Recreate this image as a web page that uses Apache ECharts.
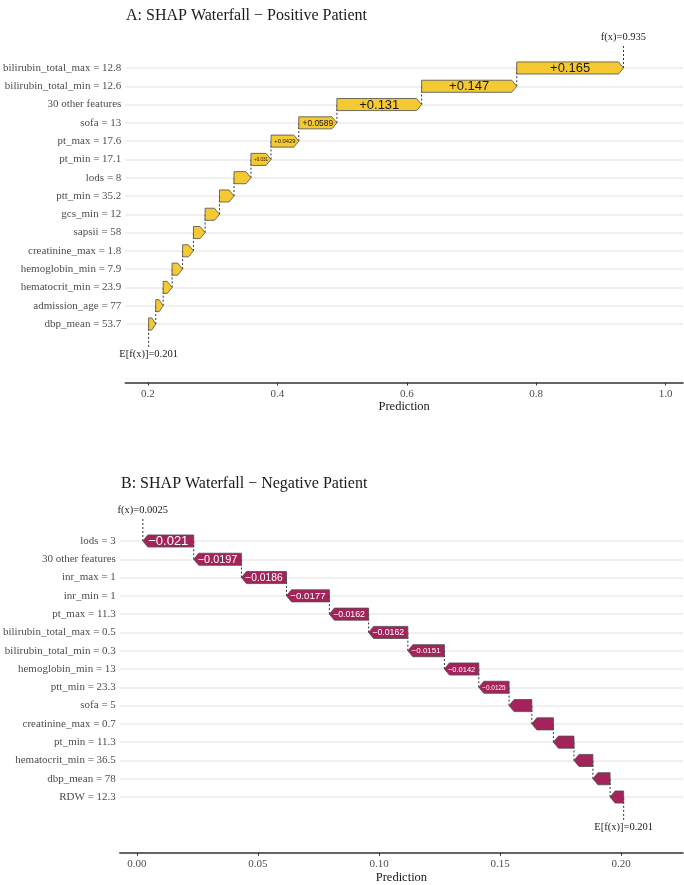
<!DOCTYPE html>
<html>
<head>
<meta charset="utf-8">
<title>SHAP Waterfall</title>
<script src="https://cdn.jsdelivr.net/npm/echarts@6.0.0/dist/echarts.min.js"></script>
<style>
    body { margin: 0; background: #fff; }
    #main { width: 684px; height: 885px; }
</style>
</head>
<body>
<div id="main"></div>
<script>
// A: 正样本 (从下往上)
var posFeatures = ['dbp_mean = 53.7', 'admission_age = 77', 'hematocrit_min = 23.9', 'hemoglobin_min = 7.9',
    'creatinine_max = 1.8', 'sapsii = 58', 'gcs_min = 12', 'ptt_min = 35.2', 'lods = 8', 'pt_min = 17.1',
    'pt_max = 17.6', 'sofa = 13', '30 other features', 'bilirubin_total_min = 12.6', 'bilirubin_total_max = 12.8']
var posShap = [0.011, 0.0115, 0.0138, 0.0162, 0.0168, 0.018, 0.0222, 0.0225, 0.0262, 0.031,
    0.0429, 0.0589, 0.131, 0.147, 0.165]
var posBase = 0.201
var posTicks = [0.2, 0.4, 0.6, 0.8, 1.0]

// B: 负样本 (从下往上)
var negFeatures = ['RDW = 12.3', 'dbp_mean = 78', 'hematocrit_min = 36.5', 'pt_min = 11.3', 'creatinine_max = 0.7',
    'sofa = 5', 'ptt_min = 23.3', 'hemoglobin_min = 13', 'bilirubin_total_min = 0.3', 'bilirubin_total_max = 0.5',
    'pt_max = 11.3', 'inr_min = 1', 'inr_max = 1', '30 other features', 'lods = 3']
var negShap = [-0.0056, -0.0071, -0.0078, -0.0085, -0.0089, -0.0094, -0.0125, -0.0142, -0.0151, -0.0162,
    -0.0162, -0.0177, -0.0186, -0.0197, -0.021]
var negBase = 0.201
var negTicks = [0, 0.05, 0.1, 0.15, 0.2]

var SERIF = 'Liberation Serif'
var SANS = 'Liberation Sans'

class Waterfall {
    constructor() {
        this.myChart = echarts.init(document.getElementById('main'))
        this.option = null
        this.renderDom()
    }

    //数值格式
    fmt(v) {
        return String(Number(Math.abs(v).toPrecision(3)))
    }

    //累计 -> [起点, 终点, 行]
    steps(base, shap) {
        var out = []
        var cur = base
        for (var i = 0; i < shap.length; i++) {
            out.push([cur, cur + shap[i], i])
            cur = cur + shap[i]
        }
        return out
    }

    //箭头条
    barSeries(idx, shap, fill, textColor, minLabel) {
        var _this = this
        return {
            type: 'custom',
            xAxisIndex: idx,
            yAxisIndex: idx,
            z: 5,
            data: this.steps(idx == 0 ? posBase : negBase, shap),
            renderItem: function (params, api) {
                var s = api.value(0), e = api.value(1), row = api.value(2)
                var p0 = api.coord([s, row])
                var p1 = api.coord([e, row])
                var y = p0[1]
                var h = api.size([0, 1])[1] * 0.33
                var w = Math.abs(p1[0] - p0[0])
                var head = Math.min(5, w * 0.55)
                var dir = e > s ? 1 : -1
                var children = [{
                    type: 'polygon',
                    shape: {
                        points: [[p0[0], y - h], [p1[0] - dir * head, y - h], [p1[0], y],
                            [p1[0] - dir * head, y + h], [p0[0], y + h]]
                    },
                    style: { fill: fill, stroke: '#4d4d4d', lineWidth: 0.8 }
                }]
                var v = e - s
                if (Math.abs(v) >= minLabel) {
                    var txt = (v > 0 ? '+' : '\u2212') + _this.fmt(v)
                    var ems = 0
                    for (var k = 0; k < txt.length; k++) {
                        ems += txt[k] == '.' ? 0.278 : (txt[k] == '+' || txt[k] == '\u2212' ? 0.584 : 0.556)
                    }
                    var fs = Math.min(13, (w - head) * 0.93 / ems)
                    children.push({
                        type: 'text',
                        style: {
                            x: (p0[0] + p1[0]) / 2, y: y + 0.5, text: txt,
                            fill: textColor, font: fs.toFixed(2) + 'px ' + SANS,
                            align: 'center', verticalAlign: 'middle'
                        }
                    })
                }
                return { type: 'group', children: children }
            }
        }
    }

    //虚线 + f(x) / E[f(x)] 标注
    linkSeries(idx, base, shap) {
        var st = this.steps(base, shap)
        var fx = st[st.length - 1][1]
        var top = shap.length - 1
        var lines = []
        for (var i = 0; i < st.length - 1; i++) {
            lines.push([st[i][1], i, i + 1])
        }
        lines.push([base, -1.25, 0])
        lines.push([fx, top, top + 1.28])
        var notes = ['E[f(x)]=' + this.fmt(base), 'f(x)=' + this.fmt(fx)]
        return [{
            type: 'custom',
            xAxisIndex: idx,
            yAxisIndex: idx,
            z: 3,
            data: lines,
            renderItem: function (params, api) {
                var a = api.coord([api.value(0), api.value(1)])
                var b = api.coord([api.value(0), api.value(2)])
                return {
                    type: 'line',
                    shape: { x1: a[0], y1: a[1], x2: b[0], y2: b[1] },
                    style: { stroke: '#333', lineWidth: 1, lineDash: [2, 2] }
                }
            }
        }, {
            type: 'custom',
            xAxisIndex: idx,
            yAxisIndex: idx,
            z: 3,
            data: [[base, -1.64], [fx, top + 1.7]],
            renderItem: function (params, api) {
                var p = api.coord([api.value(0), api.value(1)])
                return {
                    type: 'text',
                    style: {
                        x: p[0], y: p[1], text: notes[params.dataIndex],
                        fill: '#222', font: '10.5px ' + SERIF,
                        align: 'center', verticalAlign: 'middle'
                    }
                }
            }
        }]
    }

    xAxisOf(idx, min, max, ticks, digits) {
        return {
            type: 'value',
            gridIndex: idx,
            position: 'bottom',
            min: min,
            max: max,
            name: 'Prediction',
            nameLocation: 'middle',
            nameGap: 18,
            nameTextStyle: { fontFamily: SERIF, fontSize: 12.5, color: '#1a1a1a' },
            axisLine: { show: true, onZero: false, lineStyle: { color: '#333', width: 1.6 } },
            axisTick: { show: true, length: 3, customValues: ticks, lineStyle: { color: '#333' } },
            axisLabel: {
                customValues: ticks, margin: 6, fontFamily: SERIF, fontSize: 11, color: '#4d4d4d',
                formatter: function (v) { return v.toFixed(digits) }
            },
            splitLine: { show: false }
        }
    }

    yAxisOf(idx, min, names) {
        var rows = names.map(function (n, i) { return i })
        return {
            type: 'value',
            gridIndex: idx,
            min: min,
            max: 16,
            axisLine: { show: false },
            axisTick: { show: false, customValues: rows },
            axisLabel: {
                customValues: rows, margin: 4, fontFamily: SERIF, fontSize: 11, color: '#4d4d4d',
                formatter: function (v) { return names[Math.round(v)] || '' }
            },
            splitLine: { show: true, lineStyle: { color: '#ebebeb', width: 1.5 } }
        }
    }

    renderDom() {
        var series = []
        series.push(this.barSeries(0, posShap, '#f5c932', '#1a1a1a', 0.03))
        series.push(this.barSeries(1, negShap, '#a5235b', '#ffffff', 0.012))
        series = series.concat(this.linkSeries(0, posBase, posShap))
        series = series.concat(this.linkSeries(1, negBase, negShap))

        this.option = {
            animation: false,
            backgroundColor: '#fff',
            title: [{
                text: 'A: SHAP Waterfall \u2212 Positive Patient',
                left: 121, top: 3,
                textStyle: { fontFamily: SERIF, fontSize: 16, fontWeight: 'normal', color: '#1a1a1a' }
            }, {
                text: 'B: SHAP Waterfall \u2212 Negative Patient',
                left: 116, top: 471,
                textStyle: { fontFamily: SERIF, fontSize: 16, fontWeight: 'normal', color: '#1a1a1a' }
            }],
            grid: [
                { left: 122.7, right: 1, top: 31.4, bottom: 502.5 },
                { left: 117, right: 1, top: 504.4, bottom: 32.2 }
            ],
            xAxis: [
                this.xAxisOf(0, 0.165, 1.027, posTicks, 1),
                this.xAxisOf(1, -0.007, 0.2255, negTicks, 2)
            ],
            yAxis: [
                this.yAxisOf(0, -3.2, posFeatures),
                this.yAxisOf(1, -3.05, negFeatures)
            ],
            series: series
        }
        this.myChart.setOption(this.option)
    }
}

new Waterfall()
</script>
</body>
</html>
